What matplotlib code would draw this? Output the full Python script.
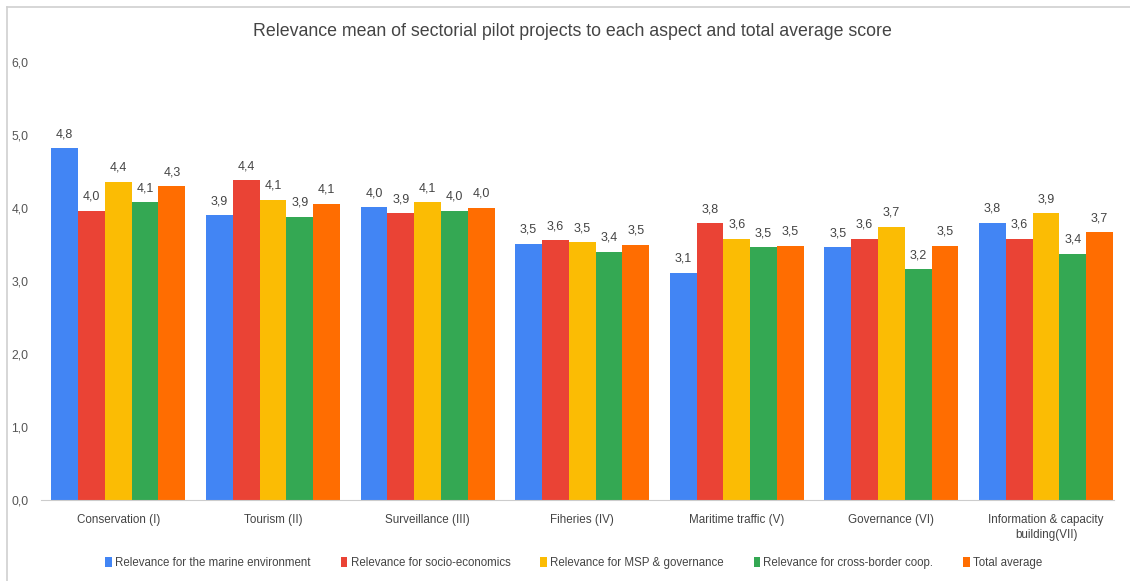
import matplotlib
matplotlib.use("Agg")
import matplotlib.pyplot as plt
from matplotlib.patches import Patch
from matplotlib.lines import Line2D
import numpy as np

categories = ["Conservation (I)", "Tourism (II)", "Surveillance (III)", "Fiheries (IV)",
              "Maritime traffic (V)", "Governance (VI)", "Information & capacity\nbuilding(VII)"]
series_names = ["Relevance for the marine environment", "Relevance for socio-economics",
                "Relevance for MSP & governance", "Relevance for cross-border coop.",
                "Total average"]
marine = [4.82, 3.90, 4.01, 3.51, 3.11, 3.46, 3.80]
socio = [3.96, 4.38, 3.93, 3.56, 3.79, 3.58, 3.58]
msp = [4.36, 4.11, 4.08, 3.53, 3.58, 3.74, 3.93]
cross = [4.08, 3.88, 3.96, 3.40, 3.46, 3.16, 3.37]
total = [4.30, 4.06, 4.00, 3.50, 3.48, 3.48, 3.67]
yticks = [0, 1, 2, 3, 4, 5, 6]
colors = ["#4285F4", "#EA4335", "#FBBC04", "#34A853", "#FF6D01"]
title = "Relevance mean of sectorial pilot projects to each aspect and total average score"

plt.rcParams["font.family"] = ["Liberation Sans", "DejaVu Sans"]

W, H = 1130, 581
fig = plt.figure(figsize=(W / 100, H / 100), dpi=100)
ax_l, ax_r, ax_t, ax_b = 41, 1114, 62, 500
ax = fig.add_axes([ax_l / W, (H - ax_b) / H, (ax_r - ax_l) / W, (ax_b - ax_t) / H])

data = [marine, socio, msp, cross, total]
x = np.arange(len(categories))
bw = 0.1733
for i, (vals, c) in enumerate(zip(data, colors)):
    pos = x + (i - 2) * bw
    bars = ax.bar(pos, vals, width=bw, color=c, edgecolor="none", zorder=2)
    for b, v in zip(bars, vals):
        ax.annotate(f"{v:.1f}".replace(".", ","), (b.get_x() + b.get_width() / 2, v),
                    xytext=(0, 8), textcoords="offset pixels", ha="center", va="bottom",
                    fontsize=9, color="#444444")

ax.set_xlim(-0.5, 6.44)
ax.set_ylim(0, 6)
ax.set_yticks(yticks)
ax.set_yticklabels([f"{t:.1f}".replace(".", ",") for t in yticks])
ax.set_xticks(x)
ax.set_xticklabels(categories, fontsize=8.4, color="#444444", linespacing=1.35)
for s in ["top", "right", "left"]:
    ax.spines[s].set_visible(False)
ax.spines["bottom"].set_color("#cccccc")
ax.tick_params(axis="y", length=0, pad=9, labelsize=8.8, labelcolor="#555555")
ax.tick_params(axis="x", length=0, pad=10)
ax.set_facecolor("none")

fig.text(572 / W, 1 - 32 / H, title, ha="center", va="center", fontsize=12.8, color="#444444")

handles = [Patch(facecolor=c, edgecolor="none") for c in colors]
fig.legend(handles, series_names, loc="center", bbox_to_anchor=(574 / W, 1 - 563 / H),
           ncol=5, frameon=False, fontsize=8.3, handlelength=0.55, handleheight=1.0,
           handletextpad=0.3, columnspacing=2.6, labelcolor="#444444")

fig.add_artist(Line2D([7 / W, 1], [1 - 6.5 / H, 1 - 6.5 / H], transform=fig.transFigure,
                      color="#d0d0d0", lw=1.2))
fig.add_artist(Line2D([7 / W, 7 / W], [0, 1 - 6.5 / H], transform=fig.transFigure,
                      color="#d0d0d0", lw=1.2))

fig.savefig("out.png", dpi=100, facecolor="white")
